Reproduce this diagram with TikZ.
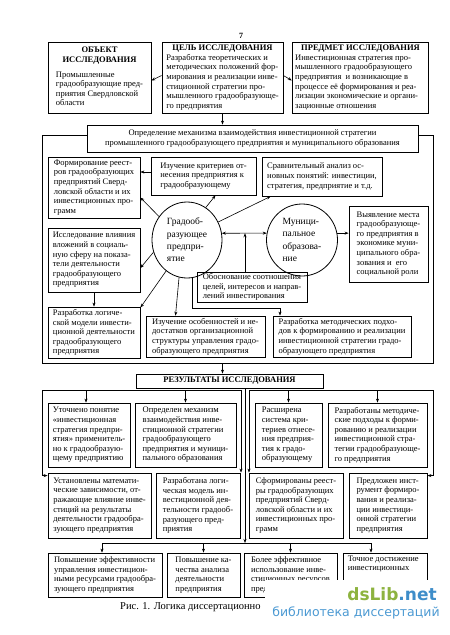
\documentclass[tikz,border=0pt]{standalone}
\usepackage{fontspec}
\setmainfont{Liberation Serif}
\newfontfamily\wmfont{DejaVu Sans}
\usetikzlibrary{shapes.geometric,arrows.meta,calc}
\setlength{\parindent}{0pt}
\definecolor{wmgreen}{HTML}{8DB33F}
\definecolor{wmblue}{HTML}{3E8DC9}
\definecolor{wmlblue}{HTML}{4C9AD3}
\tikzset{
  bx/.style={draw, line width=0.8pt, inner xsep=3pt, inner ysep=1pt, align=left,
    font=\fontsize{8.5}{9.6}\selectfont},
  txt/.style={inner xsep=3pt, inner ysep=1pt, align=left, font=\fontsize{8.5}{9.6}\selectfont},
  ell/.style={ellipse, draw, line width=0.8pt, inner sep=0pt, align=left,
    font=\fontsize{9.5}{12.3}\selectfont},
  ln/.style={line width=0.6pt},
  arr/.style={line width=0.6pt, -{Stealth[length=4pt,width=3pt]}},
  arrb/.style={line width=0.6pt, {Stealth[length=4pt,width=3pt]}-{Stealth[length=4pt,width=3pt]}},
  frm/.style={line width=0.8pt}
}
\newcommand{\bx}[7][]{%
  \pgfmathsetmacro{\myBW}{#5-#3}%
  \pgfmathsetmacro{\myBH}{#6-#4}%
  \pgfmathsetmacro{\myCX}{(#3+#5)/2}%
  \pgfmathsetmacro{\myCY}{(#4+#6)/2}%
  \node[bx, minimum width=\myBW pt, minimum height=\myBH pt, #1] (#2) at (\myCX,\myCY) {#7};}
\newcommand{\ttl}[1]{\multicolumn{1}{c}{\bfseries #1}}
\begin{document}
\begin{tikzpicture}[x=1pt,y=-1pt]
\fill[white] (0,0) rectangle (450,635);
\useasboundingbox (0,0) rectangle (450,635);

\node[font=\fontsize{8}{9}\selectfont\bfseries] (pg) at (241,36) {7};

% top boxes
\bx{b1}{48}{42}{151}{113}{\begin{tabular}{@{}l@{}}\ttl{ОБЪЕКТ}\\ \ttl{ИССЛЕДОВАНИЯ}\\[5pt] Промышленные\\ градообразующие пред-\\ приятия Свердловской\\ области\end{tabular}}
\bx{b2}{162}{42}{283}{113}{\begin{tabular}{@{}l@{}}\ttl{ЦЕЛЬ ИССЛЕДОВАНИЯ}\\ Разработка теоретических и\\ методических положений фор-\\ мирования и реализации инве-\\ стиционной стратегии про-\\ мышленного градообразующе-\\ го предприятия\end{tabular}}
\bx{b3}{294}{42}{427}{113}{\begin{tabular}{@{}l@{}}\ttl{ПРЕДМЕТ ИССЛЕДОВАНИЯ}\\ Инвестиционная стратегия про-\\ мышленного градообразующего\\ предприятия \ и возникающие в\\ процессе её формирования и реа-\\ лизации экономические и органи-\\ зационные отношения\end{tabular}}

\coordinate (b2W) at ([yshift=2pt]b2.west);
\coordinate (b2E) at ([yshift=2pt]b2.east);
\draw[arr] (b2W) -- ([yshift=-3pt]b1.east);
\draw[arr] (b2E) -- ([yshift=-3pt]b3.west);

\bx[align=center]{opr}{87}{125}{418}{152}{Определение механизма взаимодействия инвестиционной стратегии\\промышленного градообразующего предприятия и муниципального образования}
\draw[arr] (b2.south) -- (b2.south |- opr.north);

% frame
\coordinate (fTL) at (42,135);
\coordinate (fTR) at (433,135);
\coordinate (fBL) at (42,363);
\coordinate (fBR) at (433,363);
\draw[frm] (opr.west |- fTL) -- (fTL) -- (fBL) -- (fBR) -- (fTR) -- (opr.east |- fTR);

\bx{form}{48}{157}{140}{218}{Формирование реест-\\ров градообразующих\\предприятий Сверд-\\ловской области и их\\инвестиционных про-\\грамм}
\bx{izk}{151}{157}{256}{195}{Изучение критериев от-\\несения предприятия к\\градообразующему}
\bx{srav}{262}{157}{382}{196}{Сравнительный анализ ос-\\новных понятий: инвестиции,\\стратегия, предприятие и т.д.}
\node[ell, minimum width=70pt, minimum height=76pt] (g1) at (187,240) {Градооб-\\разующее\\предпри-\\ятие};
\node[ell, minimum width=71pt, minimum height=72pt] (g2) at (302,240) {Муници-\\пальное\\образова-\\ние};
\bx{vyy}{349}{206}{428}{282}{Выявление места\\градообразующе-\\го предприятия в\\экономике муни-\\ципального обра-\\зования и \ его\\социальной роли}
\bx{issl}{48}{228}{140}{292}{Исследование влияния\\вложений в социаль-\\ную сферу на показа-\\тели деятельности\\градообразующего\\предприятия}
\bx{obo}{197}{272}{307}{302}{Обоснование соотношения\\целей, интересов и направ-\\лений инвестирования}
\bx{razl}{48}{307}{140}{358}{Разработка логиче-\\ской модели инвести-\\ционной деятельности\\градообразующего\\предприятия}
\bx{izo}{146}{316}{265}{357}{Изучение особенностей и не-\\достатков организационной\\структуры управления градо-\\образующего предприятия}
\bx{razm}{273}{316}{411}{357}{Разработка методических подхо-\\дов к формированию и реализации\\инвестиционной стратегии градо-\\образующего предприятия}

% inner connectors
\coordinate (izW) at ([yshift=4pt]izk.west);
\draw[arr] (izW) -- (izW -| form.east);
\draw[arr] (g1.140) -- ([yshift=-10pt]form.east);
\draw[arr] (g1.60) -- ([xshift=12pt]izk.south);
\draw[arr] (g1.30) -- ([xshift=9pt]srav.south west);
\draw[arrb] (g1.11) -- (g2.169);
\coordinate (obT) at ([xshift=-7pt]obo.north);
\draw[arr] (obT) -- (obT |- g1.11);
\draw[arr] (g2.11) -- (g2.11 -| vyy.west);
\draw[arr] (g1.200) -- ([yshift=-8pt]issl.east);
\draw[arr] (g1.236) -- ([yshift=-1pt]razl.north east);
\coordinate (ioT) at ([xshift=-30pt]izo.north);
\draw[arr] (g1.258) -- (ioT);
\coordinate (rmT) at ([xshift=-62pt]razm.north);
\draw[arr] (g1.278) |- ([yshift=7pt]rmT) -- (rmT);
\draw[arr] (issl.south) -- (razl.north);

% results
\bx[align=center]{res}{136}{374}{323}{388}{\bfseries РЕЗУЛЬТАТЫ ИССЛЕДОВАНИЯ}
\draw[arr] (b2.south |- fBL) -- (b2.south |- res.north);

\bx{ut}{48}{403}{130}{467}{Уточнено понятие\\«инвестиционная\\стратегия предпри-\\ятия» применитель-\\но к градообразую-\\щему предприятию}
\bx{opd}{135}{403}{236}{467}{Определен механизм\\взаимодействия инве-\\стиционной стратегии\\градообразующего\\предприятия и муници-\\пального образования}
\bx{ras}{255}{403}{322}{467}{Расширена\\система кри-\\териев отнесе-\\ния предприя-\\тия к градо-\\образующему}
\bx{rzm}{328}{403}{427}{467}{Разработаны методиче-\\ские подходы к форми-\\рованию и реализации\\инвестиционной стра-\\тегии градообразующе-\\го предприятия}
\bx{ust}{48}{473}{151}{538}{Установлены математи-\\ческие зависимости, от-\\ражающие влияние инве-\\стиций на результаты\\деятельности градообра-\\зующего предприятия}
\bx{raz}{156}{473}{240}{538}{Разработана логи-\\ческая модель ин-\\вестиционной дея-\\тельности градооб-\\разующего пред-\\приятия}
\bx{sf}{249}{473}{343}{538}{Сформированы реест-\\ры градообразующих\\предприятий Сверд-\\ловской области и их\\инвестиционных про-\\грамм}
\bx{pred}{349}{473}{427}{538}{Предложен инст-\\румент формиро-\\вания и реализа-\\ции инвестици-\\онной стратегии\\предприятия}
\bx{p1}{48}{553}{162}{597}{Повышение эффективности\\управления инвестицион-\\ными ресурсами градообра-\\зующего предприятия}
\bx{p2}{167}{553}{240}{597}{Повышение ка-\\чества анализа\\деятельности\\предприятия}
\bx{p3}{244}{553}{337}{597}{Более эффективное\\использование инве-\\стиционных ресурсов\\предприятия}
\bx{p4}{343}{553}{427}{597}{}
\node[txt, anchor=north west] (p4t) at ([xshift=2pt,yshift=-2pt]p4.north west) {Точное достижение\\инвестиционных};

\coordinate (lL) at (42,390);
\coordinate (lR) at (241,390);
\coordinate (rL) at (249,390);
\coordinate (rR) at (433,390);
\coordinate (mT) at (245,388);
\coordinate (mB) at (245,543);
\coordinate (bL) at (102,543);
\coordinate (bR) at (371,543);
\draw[ln] (lL) -- (lR);
\draw[ln] (rL) -- (rR);
\draw[arr] (lL) |- ([yshift=-3pt]ust.north west);
\draw[arr] (rR) |- ([yshift=-3pt]pred.north east);
\draw[arr] (lR) -- (lR |- raz.north);
\draw[arr] (rL) -- (rL |- sf.north);
\coordinate (utN) at ([xshift=-3pt]ut.north);
\draw[arr] (utN |- lL) -- (utN);
\draw[arr] (opd.north |- lL) -- (opd.north);
\draw[arr] (ras.north |- rL) -- (ras.north);
\draw[arr] (rzm.north |- rL) -- (rzm.north);
\draw[arr] (mT) -- (mB);
\draw[ln] (bL) -- (bR);
\draw[arr] (bL) -- (bL |- p1.north);
\draw[arr] (p2.north |- bL) -- (p2.north);
\draw[arr] (p3.north |- bL) -- (p3.north);
\draw[arr] (bR) -- (bR |- p4.north);

% caption (visible part; the rest lies under the watermark)
\node[anchor=west, font=\fontsize{10.5}{12}\selectfont, inner sep=0pt] (cap) at (120,607) {Рис. 1. Логика диссертационно};

% watermark
\fill[white] (265,580) rectangle (450,623);
\node[font=\wmfont\bfseries\fontsize{17}{18}\selectfont, inner sep=0pt] (wm1) at (392,594) {\textcolor{wmgreen}{dsLib}\textcolor{wmblue}{.net}};
\node[font=\wmfont\fontsize{12.5}{14}\selectfont, text=wmlblue, inner sep=0pt] (wm2) at (356,613) {библиотека диссертаций};
\end{tikzpicture}
\end{document}
